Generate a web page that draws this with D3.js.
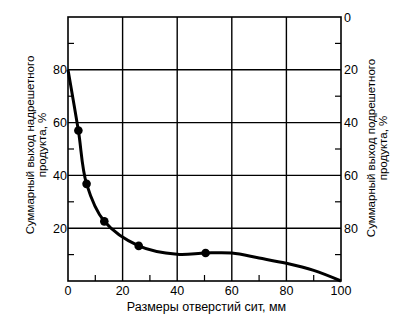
<!DOCTYPE html>
<html>
<head>
<meta charset="utf-8">
<script src="https://cdn.jsdelivr.net/npm/d3@7/dist/d3.min.js"></script>
<style>
  html, body { margin: 0; padding: 0; background: #fff; }
  svg { display: block; font-family: "Liberation Sans", Arial, sans-serif; }
</style>
</head>
<body>
<svg id="chart" width="399" height="324"></svg>
<script>
// Sieve opening size, mm (x) vs cumulative oversize yield, % (left axis)
const curveX = [0, 3.8, 6.8, 13.3, 25.9, 40, 50.4, 60, 70, 80, 90, 100];
const curveY = [80, 57, 36.8, 22.6, 13.3, 10.1, 10.6, 10.6, 8.7, 6.7, 4.0, 0];

// Measured points
const sampleX = [3.8, 6.8, 13.3, 25.9, 50.4];
const sampleY = [57, 36.8, 22.6, 13.3, 10.6];

const xTicks = [0, 20, 40, 60, 80, 100];
const xMinor = [10, 30, 50, 70, 90];
const leftTicks = [20, 40, 60, 80];
const rightTicks = [0, 20, 40, 60, 80];
const yMinor = [10, 30, 50, 70, 90];
const gridVals = [20, 40, 60, 80];

const xTitle = "Размеры отверстий сит, мм";
const leftTitle = ["Суммарный выход надрешетного", "продукта, %"];
const rightTitle = ["Суммарный выход подрешетного", "продукта, %"];

const svg = d3.select("#chart");
const L = 68, R = 341, T = 17, B = 281;

const x = d3.scaleLinear().domain([0, 100]).range([L, R]);
const y = d3.scaleLinear().domain([0, 100]).range([B, T]);
// right axis reads the undersize yield, i.e. 100 minus the left value
const yR = d3.scaleLinear().domain([100, 0]).range([B, T]);

// grid lines
const g = svg.append("g").attr("stroke", "#000").attr("stroke-width", 1.4);
g.selectAll(".gx").data(gridVals).join("line")
  .attr("x1", d => x(d)).attr("x2", d => x(d)).attr("y1", T).attr("y2", B);
g.selectAll(".gy").data(gridVals).join("line")
  .attr("x1", L).attr("x2", R).attr("y1", d => y(d)).attr("y2", d => y(d));

// frame
svg.append("rect").attr("x", L).attr("y", T).attr("width", R - L).attr("height", B - T)
  .attr("fill", "none").attr("stroke", "#000").attr("stroke-width", 1.6);

// minor ticks pointing inward
const mt = svg.append("g").attr("stroke", "#000").attr("stroke-width", 1.2);
mt.selectAll(".mx").data(xMinor).join("line")
  .attr("x1", d => x(d)).attr("x2", d => x(d)).attr("y1", B).attr("y2", B - 6);
mt.selectAll(".ml").data(yMinor).join("line")
  .attr("x1", L).attr("x2", L + 6).attr("y1", d => y(d)).attr("y2", d => y(d));
mt.selectAll(".mr").data(yMinor).join("line")
  .attr("x1", R).attr("x2", R - 6).attr("y1", d => yR(d)).attr("y2", d => yR(d));

// tick labels
const fs = 12.5;
svg.append("g").selectAll("text").data(xTicks).join("text")
  .attr("x", d => x(d)).attr("y", 295).attr("text-anchor", "middle")
  .attr("font-size", fs).text(d => d);
svg.append("g").selectAll("text").data(leftTicks).join("text")
  .attr("x", L - 1).attr("y", d => y(d) + 4.5).attr("text-anchor", "end")
  .attr("font-size", fs).text(d => d);
svg.append("g").selectAll("text").data(rightTicks).join("text")
  .attr("x", R + 3).attr("y", d => yR(d) + 4.5).attr("text-anchor", "start")
  .attr("font-size", fs).text(d => d);

// axis titles
svg.append("text").attr("x", 206.5).attr("y", 310.5)
  .attr("text-anchor", "middle").attr("font-size", 12.5).text(xTitle);

const lt = svg.append("text").attr("transform", "translate(33.5,145) rotate(-90)")
  .attr("text-anchor", "middle").attr("font-size", 11.5);
leftTitle.forEach((s, i) => lt.append("tspan").attr("x", 0).attr("dy", i ? 12 : 0).text(s));

const rt = svg.append("text").attr("transform", "translate(374.5,148) rotate(-90)")
  .attr("text-anchor", "middle").attr("font-size", 11.5);
rightTitle.forEach((s, i) => rt.append("tspan").attr("x", 0).attr("dy", i ? 12.5 : 0).text(s));

// curve
const line = d3.line().x(d => x(d[0])).y(d => y(d[1])).curve(d3.curveCatmullRom.alpha(0.5));
svg.append("path").datum(d3.zip(curveX, curveY)).attr("d", line)
  .attr("fill", "none").attr("stroke", "#000").attr("stroke-width", 3)
  .attr("stroke-linejoin", "round");

// points
svg.append("g").selectAll("circle").data(d3.zip(sampleX, sampleY)).join("circle")
  .attr("cx", d => x(d[0])).attr("cy", d => y(d[1])).attr("r", 4.3).attr("fill", "#000");
</script>
</body>
</html>
